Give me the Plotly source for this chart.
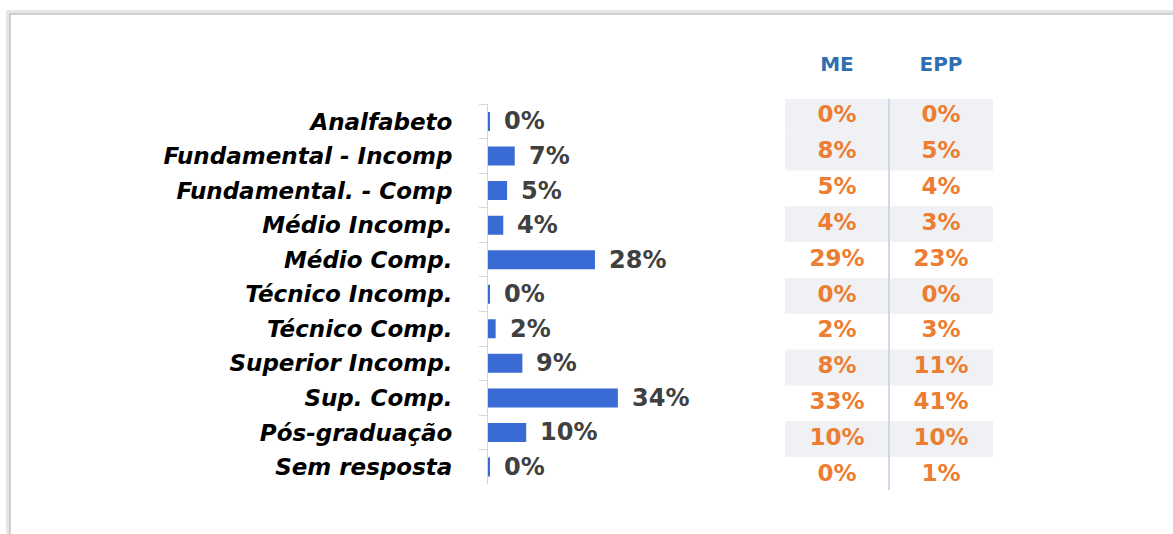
import plotly.graph_objects as go

W, H = 1173, 534

categories = ["Analfabeto", "Fundamental - Incomp", "Fundamental. - Comp", "Médio Incomp.",
              "Médio Comp.", "Técnico Incomp.", "Técnico Comp.", "Superior Incomp.",
              "Sup. Comp.", "Pós-graduação", "Sem resposta"]
total_pct = [0.4, 7, 5, 4, 28, 0.4, 2, 9, 34, 10, 0.4]
me_pct = [0, 8, 5, 4, 29, 0, 2, 8, 33, 10, 0]
epp_pct = [0, 5, 4, 3, 23, 0, 3, 11, 41, 10, 1]
table_cols = ["ME", "EPP"]
shaded_rows = [0, 1, 3, 5, 7, 9]

BLUE = "#3a6bd4"
ORANGE = "#ed7d31"
GRAY_TXT = "#404040"
FONT = "DejaVu Sans"

def px_x(p):
    return p / W

def px_y(p):
    return (H - p) / H

n = len(categories)
fig = go.Figure()

fig.add_trace(go.Bar(
    x=total_pct, y=categories, orientation="h",
    marker=dict(color=BLUE, line=dict(width=0)),
    width=0.55, xaxis="x", yaxis="y", hoverinfo="skip", showlegend=False,
))

# value labels next to bars
for c, v in zip(categories, total_pct):
    fig.add_annotation(
        x=v, y=c, xref="x", yref="y", text=f"{v:.0f}%", showarrow=False,
        xanchor="left", yanchor="middle", xshift=12,
        font=dict(family=FONT, size=24, color=GRAY_TXT, weight="bold"),
    )

# table columns
cols_x = [0.5, 1.5]
for xc, vals in zip(cols_x, [me_pct, epp_pct]):
    fig.add_trace(go.Scatter(
        x=[xc] * n, y=categories, mode="text",
        text=[f"{v}%" for v in vals], textposition="middle center",
        textfont=dict(family=FONT, size=23, color=ORANGE, weight="bold"),
        xaxis="x2", yaxis="y2", hoverinfo="skip", showlegend=False, cliponaxis=False,
    ))

shapes = []
for r in shaded_rows:
    shapes.append(dict(type="rect", xref="x2", yref="y2", x0=0, x1=2, y0=r - 0.5, y1=r + 0.5,
                       fillcolor="#f0f1f4", line=dict(width=0), layer="below"))
shapes.append(dict(type="line", xref="x2", yref="y2", x0=1, x1=1, y0=-0.61, y1=10.42,
                   line=dict(color="#c5cde0", width=1.5)))
# outer frame with faint shadow
shapes.append(dict(type="rect", xref="paper", yref="paper", x0=px_x(8), x1=px_x(1190),
                   y0=px_y(560), y1=px_y(12), line=dict(color="#e6e6e6", width=4)))
shapes.append(dict(type="rect", xref="paper", yref="paper", x0=px_x(10), x1=px_x(1190),
                   y0=px_y(560), y1=px_y(14), line=dict(color="#c4c4c4", width=1.5)))

fig.update_layout(
    width=W, height=H, margin=dict(l=0, r=0, t=0, b=0),
    paper_bgcolor="white", plot_bgcolor="rgba(0,0,0,0)",
    shapes=shapes, bargap=0.45,
    xaxis=dict(domain=[px_x(488), px_x(760)], range=[0, 272 / 3.82],
               showgrid=False, zeroline=False, showticklabels=False, showline=False),
    yaxis=dict(domain=[px_y(484.3), px_y(104.2)], type="category",
               categoryorder="array", categoryarray=categories,
               range=[n - 0.5, -0.5], showgrid=False, zeroline=False,
               showline=True, linecolor="#d6d6d6", linewidth=1,
               ticks="outside", tickson="boundaries", ticklen=8, tickcolor="#d6d6d6",
               ticklabelstandoff=30,
               tickfont=dict(family=FONT, size=23, color="black", weight="bold", style="italic")),
    xaxis2=dict(domain=[px_x(785), px_x(993)], range=[0, 2], anchor="y2", side="top",
                tickvals=cols_x, ticktext=table_cols, ticks="", showgrid=False,
                zeroline=False, showline=False, ticklabelstandoff=23,
                tickfont=dict(family=FONT, size=20, color="#2e6fb0", weight="bold")),
    yaxis2=dict(domain=[px_y(492.9), px_y(98.8)], type="category",
                categoryorder="array", categoryarray=categories,
                range=[n - 0.5, -0.5], anchor="x2", showgrid=False, zeroline=False,
                showline=False, showticklabels=False, ticks=""),
)

fig.write_html("out.html", config={"displayModeBar": False},
               post_script="document.body.style.margin='0px';")
